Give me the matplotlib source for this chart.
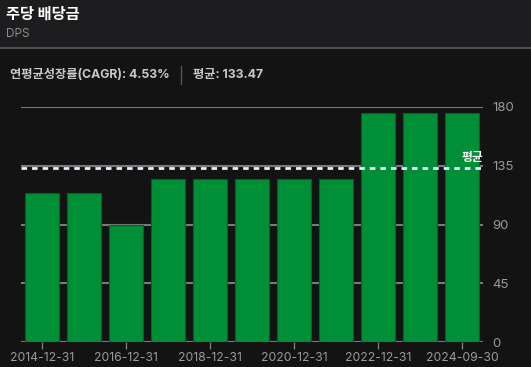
import matplotlib.pyplot as plt
from matplotlib.lines import Line2D

# data
periods = ["2014-12-31", "2015-12-31", "2016-12-31", "2017-12-31", "2018-12-31",
           "2019-12-31", "2020-12-31", "2021-12-31", "2022-12-31", "2023-12-31",
           "2024-09-30"]
dps = [114, 114, 90, 125, 125, 125, 125, 125, 175, 175, 175]
avg_value = 133.47
cagr_text = "연평균성장률(CAGR): 4.53%"
avg_text = "평균: 133.47"
y_ticks = [0, 45, 90, 135, 180]

FONT = ["Inter", "Noto Sans CJK KR", "DejaVu Sans"]
plt.rcParams["font.family"] = FONT

BG = "#131313"
HEADER_BG = "#1d1d1f"
GRID = "#7a7a7a"
TEXT_GRAY = "#9a9a9a"
BAR = "#008e36"
BAR_EDGE = "#0f5a26"

W, H = 531, 367
fig = plt.figure(figsize=(W / 100, H / 100), dpi=100, facecolor=BG)

# -------------------------------------------------
# Header
# -------------------------------------------------
fig.patches.append(plt.Rectangle((0, 1 - 48 / H), 1, 48 / H, transform=fig.transFigure,
                                 facecolor=HEADER_BG, edgecolor="none", zorder=0))
fig.lines.append(Line2D([0, 1], [1 - 48 / H, 1 - 48 / H], transform=fig.transFigure,
                        color="#5c5c5c", linewidth=1.2))
fig.text(6 / W, 1 - 14 / H, "주당 배당금", color="white", fontsize=11,
         fontweight="bold", va="center", ha="left")
fig.text(6 / W, 1 - 34 / H, "DPS", color="#8c8c8c", fontsize=8.5, va="center", ha="left")

fig.text(10 / W, 1 - 75 / H, cagr_text, color="#c9c9c9", fontsize=8.8,
         fontweight="bold", va="center", ha="left")
fig.lines.append(Line2D([181 / W, 181 / W], [1 - 84 / H, 1 - 66 / H],
                        transform=fig.transFigure, color="#555555", linewidth=1))
fig.text(193 / W, 1 - 75 / H, avg_text, color="#c9c9c9", fontsize=8.8,
         fontweight="bold", va="center", ha="left")

# -------------------------------------------------
# Bars
# -------------------------------------------------
left, right = 21 / W, 483 / W
bottom, top = (H - 342.3) / H, (H - 106.7) / H
ax = fig.add_axes([left, bottom, right - left, top - bottom], facecolor=BG)

x = list(range(len(periods)))
ax.bar(x, dps, width=0.8, color=BAR, edgecolor=BAR_EDGE, linewidth=0.8, zorder=2)

ax.set_xlim(-0.5, len(periods) - 0.5)
ax.set_ylim(0, 180)

for y in y_ticks:
    ax.axhline(y, color=GRID, linewidth=1.5, zorder=1)

ax.axhline(avg_value, color="#e6eeff", linewidth=2, linestyle=(0, (2, 1.8)), zorder=3)
ax.text(len(periods) - 0.5, avg_value + 3, "평균", color="white", fontsize=8.5,
        fontweight="bold", ha="right", va="bottom", zorder=4)

ax.yaxis.tick_right()
ax.set_yticks(y_ticks)
ax.set_yticklabels([str(v) for v in y_ticks])
ax.tick_params(axis="y", length=0, pad=7, labelsize=9.5, labelcolor=TEXT_GRAY)

tick_idx = x[::2]
ax.set_xticks(tick_idx)
ax.set_xticklabels([periods[i] for i in tick_idx])
ax.tick_params(axis="x", length=5, width=1, color=GRID, pad=2,
               labelsize=8.8, labelcolor=TEXT_GRAY)

for s in ax.spines.values():
    s.set_visible(False)

fig.savefig("out.png", dpi=100, facecolor=BG)
